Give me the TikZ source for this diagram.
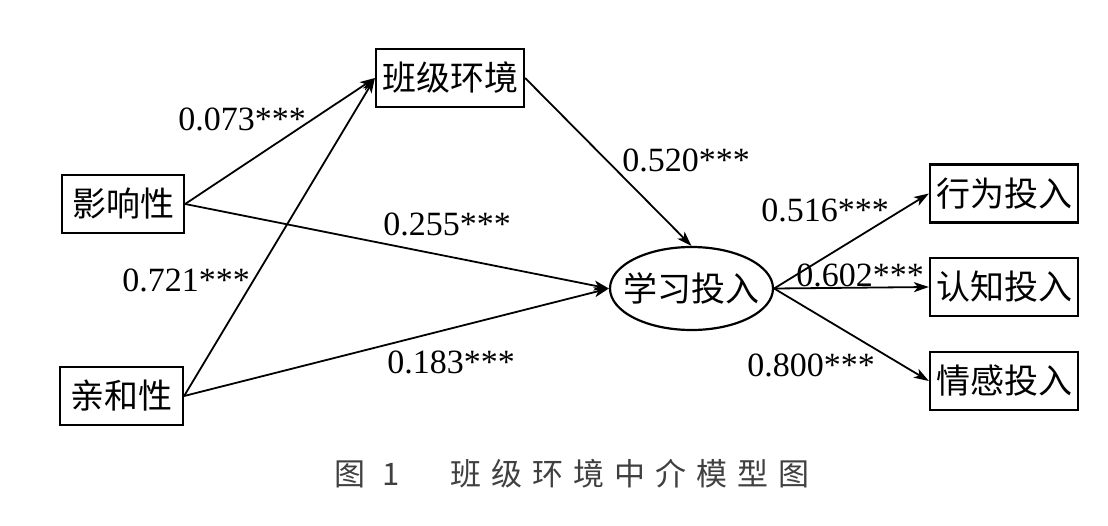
\documentclass[tikz,border=0pt]{standalone}
\usepackage{fontspec}
\setmainfont{Liberation Serif}
\newfontfamily\cjk{Noto Sans CJK SC}
\usetikzlibrary{arrows.meta,shapes.geometric}

\begin{document}
\begin{tikzpicture}[x=1pt,y=-1pt,
    box/.style={draw,line width=2.2pt,inner sep=0pt,minimum width=148pt,%
      minimum height=58pt,font=\cjk\fontsize{34}{40}\selectfont},
    coef/.style={inner sep=0pt,font=\fontsize{34}{40}\selectfont},
    path/.style={line width=1.8pt,-{Stealth[length=15pt,width=10pt,inset=4pt]}}]
      \useasboundingbox (0,0) rectangle (1108,525) ;
      % variables
      \node[box] (env) at (450,78) {班级环境} ;
      \node[box,minimum width=122pt] (infl) at (123,204) {影响性} ;
      \node[box,minimum width=123pt] (affin) at (121.5,396) {亲和性} ;
      \node[box,ellipse,inner xsep=-10.5pt,minimum width=163pt,minimum height=83pt] %
      (learn) at (691.5,288.5) {学习投入} ;
      \node[box] (beh) at (1004,193.5) {行为投入} ;
      \node[box] (cog) at (1004,287) {认知投入} ;
      \node[box] (emo) at (1004,381) {情感投入} ;
      % paths
      \draw[path] (infl.east) -- (env.west) ;
      \draw[path] (affin.east) -- (env.west) ;
      \draw[path] (infl.east) -- (learn.west) ;
      \draw[path] (affin.east) -- (learn.west) ;
      \draw[path] (env.east) -- (learn.north) ;
      \draw[path] (learn.east) -- (beh.west) ;
      \draw[path] (learn.east) -- (cog.west) ;
      \draw[path] (learn.east) -- (emo.west) ;
      % coefficients
      \node[coef] (c073) at (242,119) {0.073***} ;
      \node[coef] (c721) at (186,280) {0.721***} ;
      \node[coef] (c255) at (447,224) {0.255***} ;
      \node[coef] (c183) at (451,362) {0.183***} ;
      \node[coef] (c520) at (686,160) {0.520***} ;
      \node[coef] (c516) at (825,210) {0.516***} ;
      \node[coef] (c602) at (860,275) {0.602***} ;
      \node[coef] (c800) at (811,365) {0.800***} ;
      % caption
      \node[inner sep=0pt,text=black!75,font=\cjk\fontsize{31}{36}\selectfont] %
      (cap) at (572,474) {\addfontfeature{LetterSpace=32}图 1　班级环境中介模型图} ;
    \end{tikzpicture}
\end{document}
